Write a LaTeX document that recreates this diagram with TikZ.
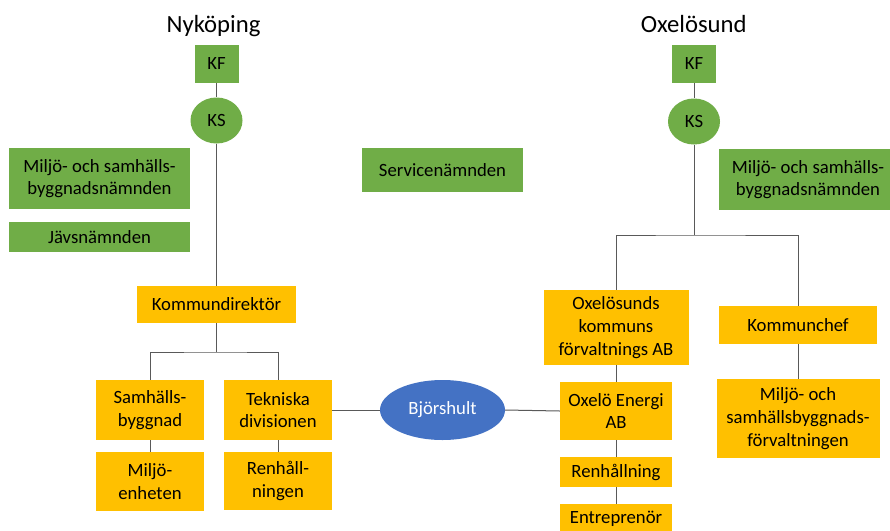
\documentclass[tikz,border=0pt]{standalone}
\usepackage{fontspec}
\setmainfont{Carlito}
\usetikzlibrary{shapes.geometric}
\definecolor{kgreen}{HTML}{70AD47}
\definecolor{korange}{HTML}{FFC000}
\definecolor{kblue}{HTML}{4472C4}
\definecolor{kline}{HTML}{595959}
\newcommand{\bfnt}{\fontsize{18.7}{22.7}\selectfont}
\newcommand{\tfnt}{\fontsize{24.7}{28}\selectfont}
\tikzset{
  base box/.style={rectangle, draw=none, inner sep=0pt, align=center, font=\bfnt, text=black},
  gbox/.style={base box, fill=kgreen},
  obox/.style={base box, fill=korange},
  gcirc/.style={ellipse, fill=kgreen, draw=none, inner sep=0pt, font=\bfnt, minimum width=52pt, minimum height=46pt},
  bell/.style={ellipse, fill=kblue, draw=none, inner sep=0pt, font=\bfnt, text=white, minimum width=125pt, minimum height=60pt},
  conn/.style={draw=kline, line width=1pt},
  ttl/.style={font=\tfnt, anchor=base, inner sep=0pt},
}
\begin{document}
\begin{tikzpicture}[x=1pt,y=-1pt]
\clip (0,0) rectangle (890,530);
\fill[white] (0,0) rectangle (890,530);
% titles
\node[ttl] (tN) at (213.5,32) {Nyköping};
\node[ttl] (tO) at (693.7,32) {Oxelösund};
% Nyköping
\node[gbox, minimum width=44pt, minimum height=38pt] (kfN) at (216.5,64) {KF};
\node[gcirc] (ksN) at (216.5,120.5) {KS};
\node[gbox, minimum width=181pt, minimum height=61pt] (miljoN) at (99.5,178.5) {Miljö- och samhälls-\\byggnadsnämnden};
\node[gbox, minimum width=181pt, minimum height=30pt] (javs) at (99.5,237) {Jävsnämnden};
\node[gbox, minimum width=161pt, minimum height=44pt] (service) at (442.5,170) {Servicenämnden};
\node[obox, minimum width=159pt, minimum height=37pt] (kdir) at (216.5,304.5) {Kommundirektör};
\coordinate (barN) at (216.5,352);
\node[obox, minimum width=108pt, minimum height=60pt] (samh) at (150,410) {Samhälls-\\byggnad};
\node[obox, minimum width=108pt, minimum height=60pt] (tekn) at (278,410) {Tekniska\\divisionen};
\node[obox, minimum width=108pt, minimum height=59pt] (menh) at (150,481.5) {Miljö-\\enheten};
\node[obox, minimum width=108pt, minimum height=58pt] (renh) at (278,481) {Renhåll-\\ningen};
\node[bell] (bjors) at (442.5,410) {Björshult};
% Oxelösund
\node[gbox, minimum width=44pt, minimum height=38pt] (kfO) at (694,64) {KF};
\node[gcirc] (ksO) at (694,121.5) {KS};
\node[gbox, minimum width=178pt, minimum height=61pt] (miljoO) at (808,179.5) {Miljö- och samhälls-\\byggnadsnämnden};
\coordinate (barO) at (694,235);
\node[obox, minimum width=145pt, minimum height=75pt] (oxf) at (616,327.5) {Oxelösunds\\kommuns\\förvaltnings AB};
\node[obox, minimum width=158pt, minimum height=38pt] (kchef) at (798,325) {Kommunchef};
\node[obox, minimum width=163pt, minimum height=79pt] (mforv) at (798,418.5) {Miljö- och\\samhällsbyggnads-\\förvaltningen};
\node[obox, minimum width=112pt, minimum height=58pt] (energi) at (616,411) {Oxelö Energi\\AB};
\node[obox, minimum width=112pt, minimum height=30pt] (renhO) at (616,472) {Renhållning};
\node[obox, minimum width=112pt, minimum height=30pt] (entr) at (616,519) {Entreprenör};
% connectors Nyköping
\draw[conn] (kfN.south) -- (ksN.north);
\draw[conn] (ksN.south) -- (kdir.north);
\draw[conn] (kdir.south) -- (barN);
\draw[conn] (samh.north) |- (barN) -| (tekn.north);
\draw[conn] (samh.south) -- (menh.north);
\draw[conn] (tekn.south) -- (renh.north);
\draw[conn] (tekn.east) -- (bjors.west);
\draw[conn] (bjors.east) -- (energi.west);
% connectors Oxelösund
\draw[conn] (kfO.south) -- (ksO.north);
\draw[conn] (ksO.south) -- (barO);
\draw[conn] (oxf.north) |- (barO) -| (kchef.north);
\draw[conn] (oxf.south) -- (energi.north);
\draw[conn] (energi.south) -- (renhO.north);
\draw[conn] (renhO.south) -- (entr.north);
\draw[conn] (kchef.south) -- (mforv.north);
\end{tikzpicture}
\end{document}
